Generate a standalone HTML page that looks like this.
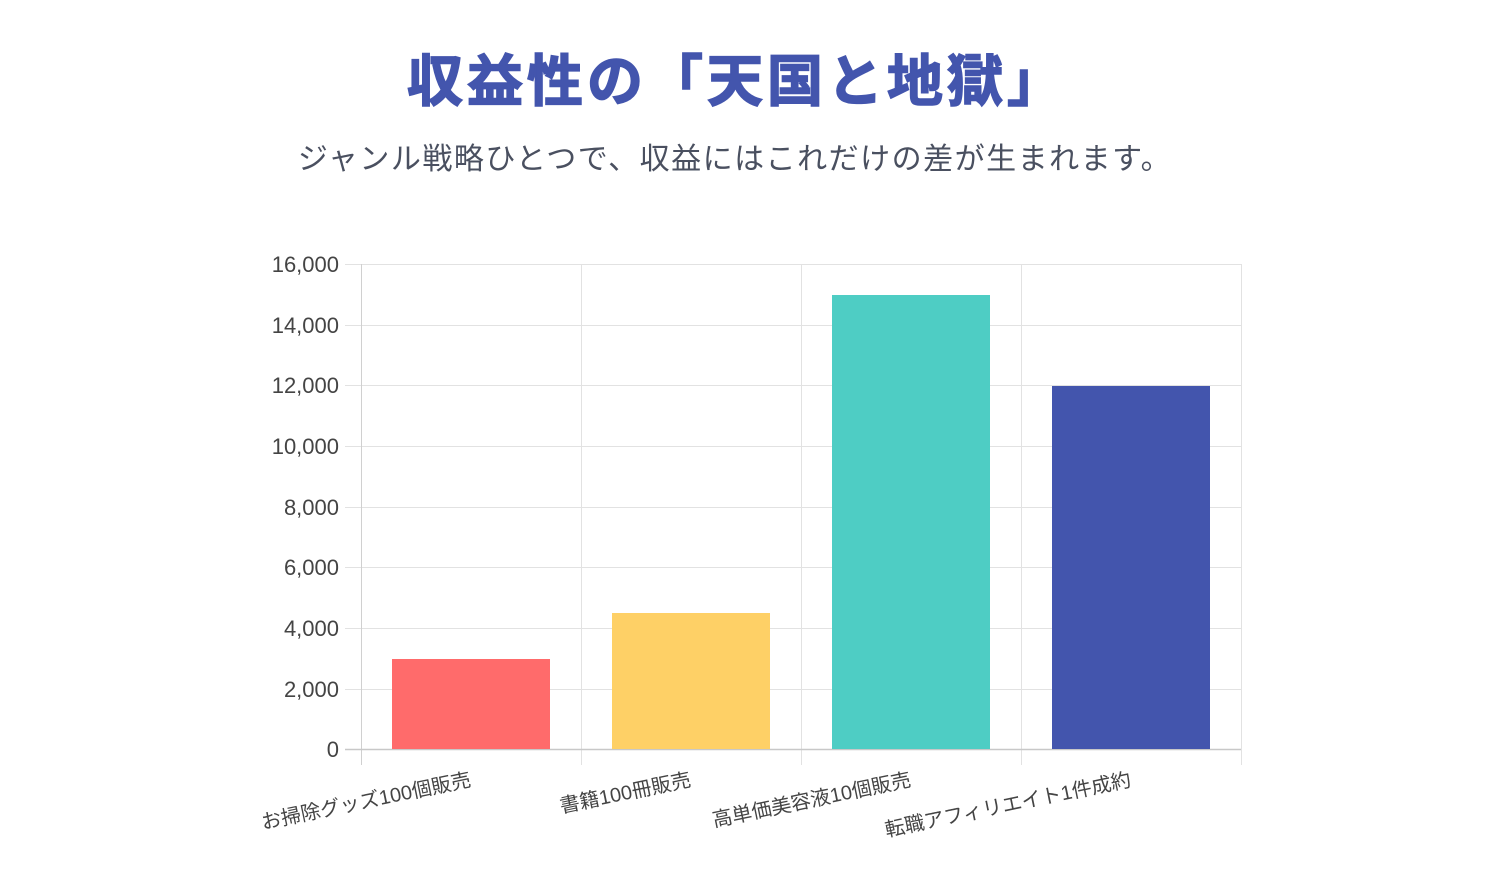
<!DOCTYPE html>
<html><head><meta charset="utf-8"><style>
html,body{margin:0;padding:0;background:#fff;width:1500px;height:884px;overflow:hidden}
svg{display:block}
</style></head><body>
<svg width="1500" height="884" xmlns="http://www.w3.org/2000/svg" font-family="'Liberation Sans','Noto Sans CJK JP',sans-serif">
<text x="737" y="101" text-anchor="middle" font-size="56" font-weight="bold" letter-spacing="4" fill="#4355ad" stroke="#4355ad" stroke-width="1.5">収益性の「天国と地獄」</text>
<text x="735" y="169" text-anchor="middle" font-size="30" letter-spacing="1.5" fill="#4a5060">ジャンル戦略ひとつで、収益にはこれだけの差が生まれます。</text>
<g stroke="#e2e2e2" stroke-width="1">
<line x1="345" y1="264.5" x2="1241" y2="264.5"/>
<line x1="345" y1="325.5" x2="1241" y2="325.5"/>
<line x1="345" y1="385.5" x2="1241" y2="385.5"/>
<line x1="345" y1="446.5" x2="1241" y2="446.5"/>
<line x1="345" y1="507.5" x2="1241" y2="507.5"/>
<line x1="345" y1="567.5" x2="1241" y2="567.5"/>
<line x1="345" y1="628.5" x2="1241" y2="628.5"/>
<line x1="345" y1="689.5" x2="1241" y2="689.5"/>
<line x1="581.5" y1="264" x2="581.5" y2="765"/>
<line x1="801.5" y1="264" x2="801.5" y2="765"/>
<line x1="1021.5" y1="264" x2="1021.5" y2="765"/>
<line x1="1241.5" y1="264" x2="1241.5" y2="765"/>
</g>
<line x1="361.5" y1="264" x2="361.5" y2="765" stroke="#d0d0d0"/>
<line x1="345" y1="749.5" x2="1241" y2="749.5" stroke="#c8c8c8" stroke-width="1.5"/>
<rect x="392" y="659" width="158" height="90" fill="#ff6b6b"/>
<rect x="612" y="613" width="158" height="136" fill="#fed066"/>
<rect x="832" y="295" width="158" height="454" fill="#4ecdc4"/>
<rect x="1052" y="386" width="158" height="363" fill="#4355ad"/>
<g font-size="22" fill="#444" text-anchor="end">
<text x="339" y="272">16,000</text>
<text x="339" y="333">14,000</text>
<text x="339" y="393">12,000</text>
<text x="339" y="454">10,000</text>
<text x="339" y="515">8,000</text>
<text x="339" y="575">6,000</text>
<text x="339" y="636">4,000</text>
<text x="339" y="697">2,000</text>
<text x="339" y="757">0</text>
</g>
<g font-size="20" fill="#444" text-anchor="end">
<text transform="translate(472,786) rotate(-11.7)">お掃除グッズ100個販売</text>
<text transform="translate(692,786) rotate(-11.7)">書籍100冊販売</text>
<text transform="translate(912,786) rotate(-11.7)">高単価美容液10個販売</text>
<text transform="translate(1132,786) rotate(-11.7)">転職アフィリエイト1件成約</text>
</g>
</svg>
</body></html>
